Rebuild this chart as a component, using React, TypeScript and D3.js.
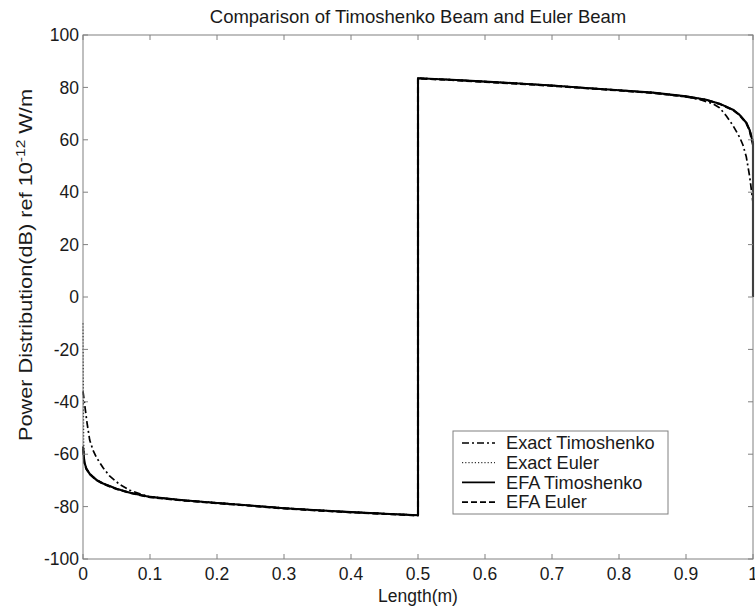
import * as d3 from "d3";
import React from "react";

type Pt = [number, number];

const xTicks = [0, 0.1, 0.2, 0.3, 0.4, 0.5, 0.6, 0.7, 0.8, 0.9, 1];
const yTicks = [-100, -80, -60, -40, -20, 0, 20, 40, 60, 80, 100];

const efaTimoshenko: Pt[] = [
  [0, -57], [0.002, -63], [0.005, -65.5], [0.01, -67.5], [0.02, -69.8], [0.03, -71.2],
  [0.05, -73.2], [0.07, -74.7], [0.1, -76.3], [0.15, -77.6], [0.2, -78.6], [0.25, -79.6],
  [0.3, -80.6], [0.35, -81.4], [0.4, -82.1], [0.45, -82.7], [0.5, -83.3], [0.5, 83.5],
  [0.55, 82.9], [0.6, 82.2], [0.65, 81.5], [0.7, 80.7], [0.75, 79.8], [0.8, 78.9],
  [0.85, 78.0], [0.9, 76.6], [0.93, 75.3], [0.95, 73.8], [0.97, 71.5], [0.98, 69.5],
  [0.99, 66.5], [0.995, 63.7], [1, 59], [1, 0],
];

const efaEuler: Pt[] = [
  [0, -58], [0.002, -63.2], [0.005, -65.6], [0.01, -67.6], [0.02, -69.9], [0.03, -71.3],
  [0.05, -73.3], [0.07, -74.8], [0.1, -76.4], [0.15, -77.7], [0.2, -78.7], [0.25, -79.7],
  [0.3, -80.7], [0.35, -81.5], [0.4, -82.2], [0.45, -82.8], [0.5, -83.4], [0.5, 83.4],
  [0.55, 82.8], [0.6, 82.1], [0.65, 81.4], [0.7, 80.6], [0.75, 79.7], [0.8, 78.8],
  [0.85, 77.9], [0.9, 76.5], [0.93, 75.2], [0.95, 73.7], [0.97, 71.4], [0.98, 69.4],
  [0.99, 66.4], [0.995, 63.5], [1, 58],
];

const exactTimoshenko: Pt[] = [
  [0, -36], [0.003, -42], [0.006, -48], [0.01, -54.6], [0.015, -58.5], [0.02, -61.2],
  [0.03, -65.2], [0.04, -68.4], [0.055, -71.6], [0.07, -73.8], [0.09, -75.6], [0.1, -76.3],
  [0.15, -77.6], [0.2, -78.6], [0.25, -79.6], [0.3, -80.6], [0.35, -81.4], [0.4, -82.1],
  [0.45, -82.7], [0.5, -83.3], [0.5, 83.5], [0.55, 82.9], [0.6, 82.2], [0.65, 81.5],
  [0.7, 80.7], [0.75, 79.8], [0.8, 78.9], [0.85, 78.0], [0.9, 76.4], [0.92, 75.4],
  [0.94, 73.8], [0.95, 72.2], [0.96, 69.2], [0.97, 65.5], [0.98, 61], [0.985, 58],
  [0.99, 53.5], [0.995, 46], [1, 36],
];

const exactEuler: Pt[] = [
  [0, -10], [0.001, -56], [0.002, -62.5], [0.005, -65.4], [0.01, -67.4], [0.02, -69.7],
  [0.03, -71.1], [0.05, -73.1], [0.07, -74.6], [0.1, -76.2], [0.15, -77.5], [0.2, -78.5],
  [0.25, -79.5], [0.3, -80.5], [0.35, -81.3], [0.4, -82.0], [0.45, -82.6], [0.5, -83.2],
  [0.5, 83.6], [0.55, 83.0], [0.6, 82.3], [0.65, 81.6], [0.7, 80.8], [0.75, 79.9],
  [0.8, 79.0], [0.85, 78.1], [0.9, 76.7], [0.93, 75.4], [0.95, 73.9], [0.97, 71.6],
  [0.98, 69.6], [0.99, 66.6], [0.995, 63.8], [1, 60], [1, 10],
];

const legendLabels = ["Exact Timoshenko", "Exact Euler", "EFA Timoshenko", "EFA Euler"];

const W = 755;
const H = 613;
const margin = { top: 35, right: 2, bottom: 54, left: 83 };
const font = "'Liberation Sans', Arial, Helvetica, sans-serif";
const axisColor = "#808080";
const textColor = "#1a1a1a";

export default function App() {
  const x = d3.scaleLinear().domain([0, 1]).range([margin.left, W - margin.right]);
  const y = d3.scaleLinear().domain([-100, 100]).range([H - margin.bottom, margin.top]);
  const line = d3
    .line<Pt>()
    .x((d) => x(d[0]))
    .y((d) => y(d[1]));

  // drawn back to front so the solid EFA line sits on top
  const series = [
    { data: exactEuler, dash: "1.2,2", width: 1.2 },
    { data: exactTimoshenko, dash: "7,3,2,3", width: 1.7 },
    { data: efaEuler, dash: "6,3", width: 2.1 },
    { data: efaTimoshenko, dash: undefined, width: 2.1 },
  ];
  const legendStyles = [
    { dash: "7,3,2,3", width: 1.4 },
    { dash: "1.2,2", width: 1 },
    { dash: undefined, width: 1.6 },
    { dash: "6,3", width: 1.6 },
  ];

  const [x0, x1] = x.range();
  const [y0, y1] = y.range();
  const tickLen = 5;

  return (
    <svg
      width={W}
      height={H}
      style={{ position: "absolute", left: 0, top: 0, background: "#fff" }}
      fontFamily={font}
    >
      <rect x={0} y={0} width={W} height={H} fill="#fff" />
      <text x={(x0 + x1) / 2} y={23} textAnchor="middle" fontSize={18.5} fill={textColor}>
        Comparison of Timoshenko Beam and Euler Beam
      </text>

      {series.map((s, i) => (
        <path
          key={i}
          d={line(s.data) || ""}
          fill="none"
          stroke="#000"
          strokeWidth={s.width}
          strokeDasharray={s.dash}
          strokeLinejoin="round"
        />
      ))}

      <rect x={x0} y={y1} width={x1 - x0} height={y0 - y1} fill="none" stroke={axisColor} strokeWidth={1} />
      {xTicks.map((t) => (
        <g key={"x" + t}>
          <line x1={x(t)} x2={x(t)} y1={y0} y2={y0 - tickLen} stroke={axisColor} />
          <line x1={x(t)} x2={x(t)} y1={y1} y2={y1 + tickLen} stroke={axisColor} />
          <text x={x(t)} y={y0 + 21} textAnchor="middle" fontSize={17.5} fill={textColor}>
            {String(t)}
          </text>
        </g>
      ))}
      {yTicks.map((t) => (
        <g key={"y" + t}>
          <line x1={x0} x2={x0 + tickLen} y1={y(t)} y2={y(t)} stroke={axisColor} />
          <line x1={x1} x2={x1 - tickLen} y1={y(t)} y2={y(t)} stroke={axisColor} />
          <text x={x0 - 4} y={y(t)} dy="0.35em" textAnchor="end" fontSize={17.5} fill={textColor}>
            {String(t)}
          </text>
        </g>
      ))}

      <text x={(x0 + x1) / 2} y={602} textAnchor="middle" fontSize={17.5} fill={textColor}>
        Length(m)
      </text>
      <text
        transform={`translate(32,265) rotate(-90)`}
        textAnchor="middle"
        fontSize={17.5}
        fill={textColor}
        textLength={352}
        lengthAdjust="spacingAndGlyphs"
      >
        Power Distribution(dB) ref 10
        <tspan dy={-7} fontSize={12.5}>-12</tspan>
        <tspan dy={7}> W/m</tspan>
      </text>

      <g>
        <rect x={453} y={431} width={215} height={83} fill="#fff" stroke={axisColor} />
        {legendLabels.map((lab, i) => {
          const cy = 443 + i * 19.7;
          const st = legendStyles[i];
          return (
            <g key={lab}>
              <line
                x1={462}
                x2={495}
                y1={cy}
                y2={cy}
                stroke="#000"
                strokeWidth={st.width}
                strokeDasharray={st.dash}
              />
              <text x={506} y={cy} dy="0.35em" fontSize={18.2} fill={textColor}>
                {lab}
              </text>
            </g>
          );
        })}
      </g>
    </svg>
  );
}
